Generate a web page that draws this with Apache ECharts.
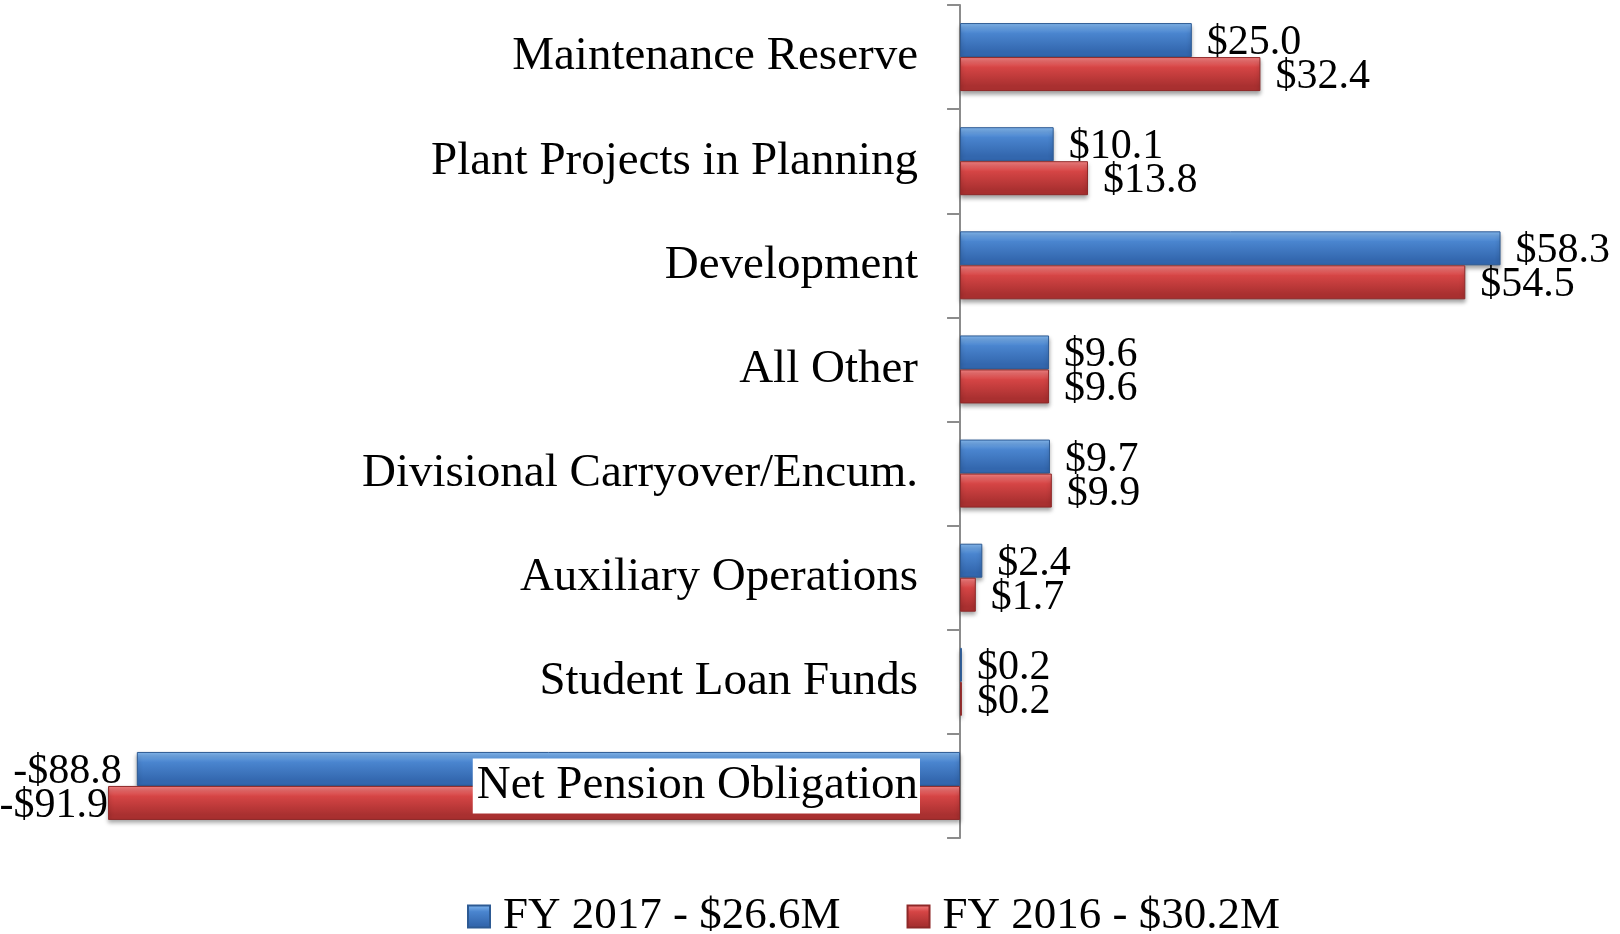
<!DOCTYPE html>
<html>
<head>
<meta charset="utf-8">
<script src="https://cdn.jsdelivr.net/npm/echarts@6/dist/echarts.min.js"></script>
<style>
  html, body { margin: 0; padding: 0; background: #fff; }
  #chart { width: 1620px; height: 934px; }
</style>
</head>
<body>
<div id="chart"></div>
<script>
// categories, top to bottom
const categories = [
  "Maintenance Reserve",
  "Plant Projects in Planning",
  "Development",
  "All Other",
  "Divisional Carryover/Encum.",
  "Auxiliary Operations",
  "Student Loan Funds",
  "Net Pension Obligation"
];
// $ millions
const fy2017 = [25.0, 10.1, 58.3, 9.6, 9.7, 2.4, 0.2, -88.8];
const fy2016 = [32.4, 13.8, 54.5, 9.6, 9.9, 1.7, 0.2, -91.9];
const seriesNames = ["FY 2017 - $26.6M", "FY 2016 - $30.2M"];

const font = "'Liberation Serif', 'DejaVu Serif', serif";

const chart = echarts.init(document.getElementById("chart"));

// vertical gradient to mimic the bevelled bars
const grad = (top, mid, bottom) => ({
  type: "linear", x: 0, y: 0, x2: 0, y2: 1,
  colorStops: [
    { offset: 0, color: top },
    { offset: 0.3, color: mid },
    { offset: 0.85, color: bottom },
    { offset: 1, color: bottom }
  ]
});
const blue = grad("#86BBF2", "#4A85CF", "#3367AE");
const red = grad("#F78585", "#D54545", "#A93030");

const fmt = p => (p.value < 0 ? "-$" : "$") + Math.abs(p.value).toFixed(1);

// negative bars get their label on the left end
const toData = (arr, negDist) => arr.map(v => ({
  value: v,
  label: v < 0 ? { position: "left", distance: negDist } : { position: "right" }
}));

const makeSeries = (name, arr, color, border, negDist) => ({
  name: name,
  type: "bar",
  xAxisIndex: 0,
  yAxisIndex: 0,
  data: toData(arr, negDist),
  barWidth: 34,
  barGap: "0%",
  itemStyle: {
    color: color,
    borderColor: border,
    borderWidth: 1,
    shadowColor: "rgba(0,0,0,0.35)",
    shadowBlur: 4,
    shadowOffsetY: 3
  },
  label: {
    show: true,
    distance: 15,
    offset: [0, 3],
    formatter: fmt,
    fontFamily: font,
    fontSize: 42,
    color: "#000"
  }
});

chart.setOption({
  animation: false,
  backgroundColor: "#fff",
  grid: [
    // bars
    { left: 33, right: 11, top: 5, bottom: 96, containLabel: false },
    // category labels, right edge on the zero line
    { left: 0, right: 660, top: 5, bottom: 96, containLabel: false }
  ],
  legend: {
    left: 462,
    top: 889,
    itemWidth: 22,
    itemHeight: 22,
    itemGap: 66,
    icon: "rect",
    textStyle: {
      fontFamily: font,
      fontSize: 45,
      color: "#000",
      padding: [0, 0, 0, 8]
    },
    data: [
      { name: seriesNames[0], itemStyle: { color: blue, borderColor: "#2D5A93" } },
      { name: seriesNames[1], itemStyle: { color: red, borderColor: "#8E2828" } }
    ]
  },
  xAxis: [
    { type: "value", gridIndex: 0, min: -100, max: 70, show: false },
    { type: "value", gridIndex: 1, min: 0, max: 1, show: false }
  ],
  yAxis: [
    {
      type: "category",
      gridIndex: 0,
      data: categories,
      inverse: true,
      axisLine: { show: true, lineStyle: { color: "#8C8C8C", width: 2 } },
      axisTick: { show: true, length: 13, lineStyle: { color: "#8C8C8C", width: 2 } },
      axisLabel: { show: false }
    },
    {
      type: "category",
      gridIndex: 1,
      data: categories,
      inverse: true,
      position: "right",
      z: 10,
      axisLine: { show: false },
      axisTick: { show: false },
      splitLine: { show: false },
      axisLabel: {
        inside: true,
        margin: 40,
        fontFamily: font,
        fontSize: 47,
        color: "#000",
        backgroundColor: "#fff",
        padding: [8, 2, 0, 4]
      }
    }
  ],
  series: [
    makeSeries(seriesNames[0], fy2017, blue, "#2D5A93", 15),
    makeSeries(seriesNames[1], fy2016, red, "#8E2828", 0)
  ]
});
</script>
</body>
</html>
